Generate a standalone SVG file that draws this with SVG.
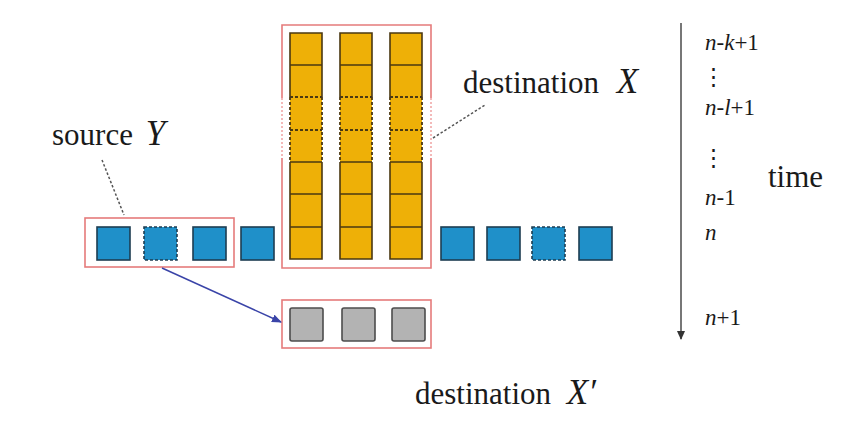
<svg xmlns="http://www.w3.org/2000/svg" width="849" height="427" viewBox="0 0 849 427">
<style>
.txt{font-family:"Liberation Serif","Tinos","Times New Roman","DejaVu Serif",serif;fill:#1a1a1a}
.lab{font-size:31px}
.var{font-size:35px;font-style:italic}
.t{font-size:23px}
.it{font-style:italic}
.red{fill:none;stroke:#e57b7b;stroke-width:1.6}
.redd{fill:none;stroke:#f0a8a8;stroke-width:1.6;stroke-dasharray:2 2}
.blue{fill:#1f90c9;stroke:#1d3d52;stroke-width:1.6}
.blued{fill:#1f90c9;stroke:#1d3d52;stroke-width:1.6;stroke-dasharray:3 2}
.gray{fill:#b3b3b3;stroke:#4d4d4d;stroke-width:1.6}
.ofill{fill:#eeb007;stroke:none}
.os{fill:none;stroke:#4a3812;stroke-width:1.6}
.od{fill:none;stroke:#4a3812;stroke-width:1.8;stroke-dasharray:3 2}
.leader{fill:none;stroke:#555;stroke-width:1.5;stroke-dasharray:2.5 2}
</style>
<defs>
<marker id="bh" markerWidth="10" markerHeight="8" refX="9" refY="4" orient="auto" markerUnits="userSpaceOnUse">
<path d="M0,0 L10,4 L0,8 Z" fill="#3a44a8"/>
</marker>
<marker id="gh" markerWidth="8" markerHeight="9" refX="4" refY="8" orient="0" markerUnits="userSpaceOnUse">
<path d="M0,0 L8,0 L4,9 Z" fill="#333"/>
</marker>
</defs>

<g id="source-box">
<rect class="red" x="85" y="218" width="149" height="49"/>
</g>
<g id="blue-row">
<rect class="blue" x="97" y="227" width="33" height="33"/>
<rect class="blued" x="144" y="227" width="33" height="33"/>
<rect class="blue" x="193" y="227" width="33" height="33"/>
<rect class="blue" x="241" y="227" width="33" height="33"/>
<rect class="blue" x="441" y="227" width="33" height="33"/>
<rect class="blue" x="487" y="227" width="33" height="33"/>
<rect class="blued" x="532" y="227" width="33" height="33"/>
<rect class="blue" x="579" y="227" width="33" height="33"/>
</g>

<g id="destination-X">
<path class="red" d="M282,98 V25 H431 V98 M282,158 V268 H431 V158"/>
<path class="redd" d="M282,98 V158 M431,98 V158"/>
<g id="col1">
<rect class="ofill" x="290" y="33" width="32" height="226"/>
<path class="os" d="M290,97 V33 H322 V97 M290,162 V259 H322 V162 M290,65 H322 M290,162 H322 M290,194 H322 M290,227 H322"/>
<path class="od" d="M290,97 V162 M322,97 V162 M290,97 H322 M290,130 H322"/>
</g>
<g id="col2">
<rect class="ofill" x="340" y="33" width="32" height="226"/>
<path class="os" d="M340,97 V33 H372 V97 M340,162 V259 H372 V162 M340,65 H372 M340,162 H372 M340,194 H372 M340,227 H372"/>
<path class="od" d="M340,97 V162 M372,97 V162 M340,97 H372 M340,130 H372"/>
</g>
<g id="col3">
<rect class="ofill" x="390" y="33" width="32" height="226"/>
<path class="os" d="M390,97 V33 H422 V97 M390,162 V259 H422 V162 M390,65 H422 M390,162 H422 M390,194 H422 M390,227 H422"/>
<path class="od" d="M390,97 V162 M422,97 V162 M390,97 H422 M390,130 H422"/>
</g>
</g>

<g id="destination-Xprime">
<rect class="red" x="282" y="300" width="149" height="48"/>
<rect class="gray" x="290" y="308" width="33" height="33" rx="2"/>
<rect class="gray" x="342" y="308" width="33" height="33" rx="2"/>
<rect class="gray" x="392" y="308" width="33" height="33" rx="2"/>
</g>

<g id="connectors">
<line class="leader" x1="102" y1="160" x2="124" y2="215"/>
<line class="leader" x1="433" y1="138" x2="485" y2="105"/>
<line x1="162" y1="268" x2="281" y2="322" stroke="#3a44a8" stroke-width="1.5" marker-end="url(#bh)"/>
<line x1="681" y1="23" x2="681" y2="339" stroke="#555" stroke-width="1.6" marker-end="url(#gh)"/>
</g>

<g id="labels">
<text class="txt lab" x="52" y="145">source <tspan class="var" dx="5">Y</tspan></text>
<text class="txt lab" x="463" y="93">destination <tspan class="var" dx="10">X</tspan></text>
<text class="txt lab" x="415" y="404">destination <tspan class="var" dx="8">X′</tspan></text>
<text class="txt lab" x="768" y="187">time</text>
</g>

<g id="time-ticks">
<text class="txt t" x="705" y="50"><tspan class="it">n</tspan>-<tspan class="it">k</tspan>+1</text>
<text class="txt t" x="702" y="84">⋮</text>
<text class="txt t" x="705" y="115"><tspan class="it">n</tspan>-<tspan class="it">l</tspan>+1</text>
<text class="txt t" x="702" y="165">⋮</text>
<text class="txt t" x="705" y="205"><tspan class="it">n</tspan>-1</text>
<text class="txt t" x="705" y="240"><tspan class="it">n</tspan></text>
<text class="txt t" x="705" y="325"><tspan class="it">n</tspan>+1</text>
</g>
</svg>
